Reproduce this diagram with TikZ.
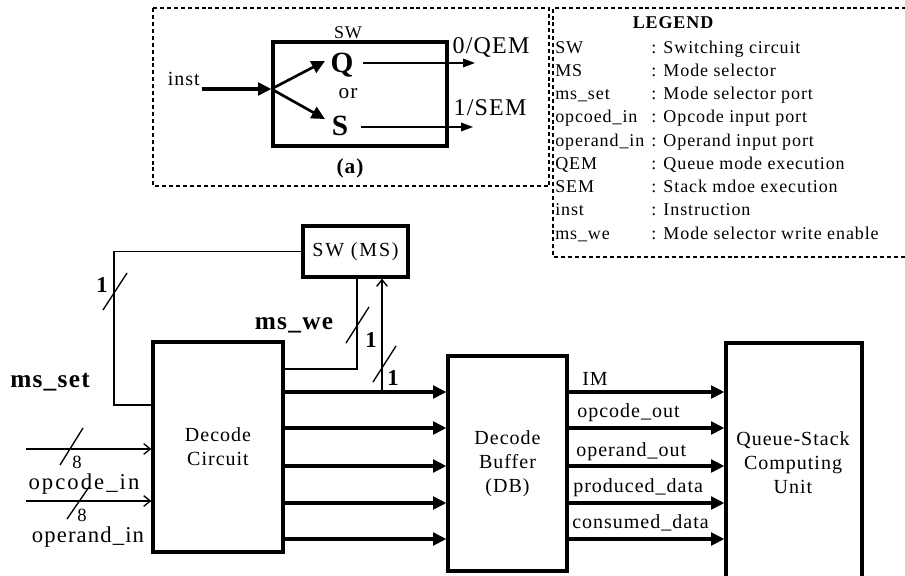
\documentclass[tikz,border=0pt]{standalone}
\usepackage{fontspec}
\setmainfont{Liberation Serif}
\newfontfamily\spc[LetterSpace=5]{Liberation Serif}
\newfontfamily\spcw[LetterSpace=9]{Liberation Serif}
\usetikzlibrary{arrows.meta}
\begin{document}
\begin{tikzpicture}[x=0.75pt,y=-0.75pt,
  bx/.style={draw, line width=2.4pt, inner sep=0pt},
  thn/.style={line width=1pt},
  tharr/.style={line width=2.3pt, -{Triangle[length=10pt,width=9.5pt]}},
  tnarr/.style={line width=1pt, -{Triangle[length=9pt,width=6.5pt]}},
  openarr/.style={line width=1pt, -{Straight Barb[length=5pt,width=8pt]}},
  dsh/.style={line width=0.8pt, dash pattern=on 3pt off 2.2pt},
  lab/.style={inner sep=0pt, font=\spc\fontsize{#1}{18}\selectfont},
  wlab/.style={inner sep=0pt, font=\spcw\fontsize{#1}{18}\selectfont},
  blab/.style={inner sep=0pt, font=\spc\bfseries\fontsize{#1}{18}\selectfont}]
\useasboundingbox (0,0) rectangle (905,575);

% ---------------- inset (a)
\draw[dsh] (153,8) rectangle (549,186);
\node[bx, minimum width=130.5pt, minimum height=78pt] (sw) at (360,94) {};
\node[lab=13.5, anchor=base] (swl) at (348,38) {SW};
\node[lab=15, anchor=base east] (inst) at (200,85) {inst};
\node[blab=22, anchor=base] (Q) at (342,72) {Q};
\node[lab=16, anchor=base] (or) at (348,98) {or};
\node[blab=22, anchor=base] (S) at (340,135) {S};
\node[lab=18, anchor=base] (qem) at (491,53) {0/QEM};
\node[lab=18, anchor=base] (sem) at (490,115) {1/SEM};
\node[blab=16, anchor=base] (cap) at (350,173) {(a)};
\coordinate (ins) at (202,89);
\coordinate (br) at (sw.west |- ins);
\coordinate (qt) at (325,61);
\coordinate (st) at (325,119);
\coordinate (qa) at (363,63);
\coordinate (qb) at (475,63);
\coordinate (sa) at (361,127);
\coordinate (sb) at (473,127);
\draw[tharr] (ins) -- (br);
\draw[tharr, line width=2pt] (br) -- (qt);
\draw[tharr, line width=2pt] (br) -- (st);
\draw[tnarr] (qa) -- (qb);
\draw[tnarr] (sa) -- (sb);

% ---------------- legend
\draw[dsh] (906,8) -- (553,8) -- (553,257) -- (906,257);
\node[blab=13.5, anchor=base] (lgh) at (673,28) {LEGEND};
\foreach \k/\a/\b in {0/SW/Switching circuit, 1/MS/Mode selector,
  2/ms\_set/Mode selector port, 3/opcoed\_in/Opcode input port,
  4/operand\_in/Operand input port, 5/QEM/Queue mode execution,
  6/SEM/Stack mdoe execution, 7/inst/Instruction,
  8/ms\_we/Mode selector write enable}{
  \node[lab=13.5, anchor=base west] (la\k) at (555,53+23.25*\k) {\a};
  \node[lab=13.5, anchor=base west] (lb\k) at (651,53+23.25*\k) {: \b};
}

% ---------------- main diagram
\node[bx, lab=15, align=center, minimum width=97.5pt, minimum height=157.5pt] (dc) at (218,447) {Decode\\Circuit};
\node[bx, lab=15, align=center, minimum width=89.25pt, minimum height=161.25pt] (db) at (507.5,463.5) {Decode\\Buffer\\(DB)};
\node[bx, minimum width=102pt, minimum height=192.75pt] (qs) at (794,471.5) {};
\node[lab=15, align=center] (qst) at (793,463) {Queue-Stack\\Computing\\Unit};
\node[bx, wlab=15, minimum width=78.75pt, minimum height=38.25pt] (sm) at (355.5,251.5) {SW (MS)};

\foreach \i/\y in {1/392,2/428,3/466,4/503,5/539}{
  \coordinate (r\i) at (0,\y);
  \draw[tharr] (dc.east |- r\i) -- (db.west |- r\i);
  \draw[tharr] (db.east |- r\i) -- (qs.west |- r\i);
}
\node[lab=15, anchor=base west] (im) at (582,385) {IM};
\node[lab=15, anchor=base west] (oco) at (577,417) {opcode\_out};
\node[lab=15, anchor=base west] (opo) at (576,456) {operand\_out};
\node[lab=15, anchor=base west] (prd) at (573,492) {produced\_data};
\node[lab=15, anchor=base west] (cns) at (572,528) {consumed\_data};

% feedback ms_set
\coordinate (fbl) at (114,250);
\coordinate (y405) at (0,405);
\draw[thn] (sm.west) -- (sm.west -| fbl) -- (fbl |- y405) -- (dc.west |- y405);
\draw[thn] (103,310) -- (127,273);
\node[blab=17, anchor=base] (one1) at (102,292) {1};
\node[blab=19, anchor=base] (mss) at (50,387) {ms\_set};

% ms_we
\coordinate (we) at (357,369);
\draw[thn] (dc.east |- we) -- (we) -- (we |- sm.south);
\draw[thn] (346,343) -- (369,307);
\node[blab=17, anchor=base] (one2) at (371,347) {1};
\node[blab=19, anchor=base] (mswe) at (294,329) {ms\_we};

% up arrow
\coordinate (up) at (382,392);
\draw[openarr] (up) -- (up |- sm.south);
\draw[thn] (373,382) -- (396,346);
\node[blab=17, anchor=base] (one3) at (393,385) {1};

% inputs
\coordinate (oi) at (26,449);
\coordinate (pi) at (26,501);
\draw[openarr] (oi) -- (dc.west |- oi);
\draw[openarr] (pi) -- (dc.west |- pi);
\draw[thn] (60,465) -- (83,428);
\draw[thn] (67,519) -- (89,487);
\node[lab=14, anchor=base] (e1) at (77,468) {8};
\node[lab=14, anchor=base] (e2) at (82,521) {8};
\node[wlab=17, anchor=base] (opi) at (84,489) {opcode\_in};
\node[lab=17, anchor=base] (opdi) at (88,542) {operand\_in};
\end{tikzpicture}
\end{document}
